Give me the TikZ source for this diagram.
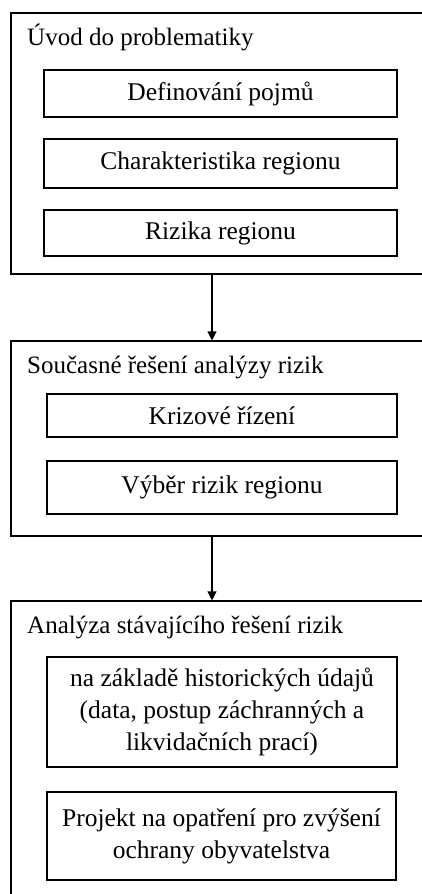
\documentclass[tikz,border=0pt]{standalone}
\usepackage{fontspec}
\setmainfont{Liberation Serif}
\usetikzlibrary{arrows.meta}
\begin{document}
\begin{tikzpicture}[x=1pt,y=-1pt,
  outerbox/.style={draw, line width=1.1pt, minimum width=419pt, inner sep=0pt},
  innerbox/.style={draw, line width=1.1pt, inner sep=0pt, align=center, font=\fontsize{25.5}{32}\selectfont},
  titletext/.style={anchor=base west, inner sep=0pt, font=\fontsize{25}{32}\selectfont},
  arr/.style={-{Triangle[width=9pt,length=9pt]}, line width=1.1pt}]
\useasboundingbox (0,0) rectangle (422,894);
\clip (0,0) rectangle (422,894);
% outer boxes
\node[outerbox, minimum height=261pt] (b1) at (220.5,143.5) {};
\node[outerbox, minimum height=195pt] (b2) at (220.5,438.5) {};
\node[outerbox, minimum height=299pt] (b3) at (220.5,750.5) {};
% titles
\node[titletext] (t1) at (27,45) {Úvod do problematiky};
\node[titletext] (t2) at (27,373) {Současné řešení analýzy rizik};
\node[titletext] (t3) at (27,633) {Analýza stávajícího řešení rizik};
% inner boxes
\node[innerbox, minimum width=353pt, minimum height=47pt] (i1) at (220.5,93.5) {Definování pojmů};
\node[innerbox, minimum width=353pt, minimum height=49pt] (i2) at (220.5,163.5) {Charakteristika regionu};
\node[innerbox, minimum width=353pt, minimum height=46pt] (i3) at (220.5,233) {Rizika regionu};
\node[innerbox, minimum width=350pt, minimum height=43pt] (j1) at (222,415.5) {Krizové řízení};
\node[innerbox, minimum width=350pt, minimum height=53pt] (j2) at (222,487.5) {Výběr rizik regionu};
\node[innerbox, minimum width=350pt, minimum height=110pt] (k1) at (222,712) {na základě historických údajů\\(data, postup záchranných a\\likvidačních prací)};
\node[innerbox, minimum width=349pt, minimum height=88pt] (k2) at (221.5,836) {Projekt na opatření pro zvýšení\\ochrany obyvatelstva};
% connectors
\coordinate (ax) at (212,0);
\draw[arr] (b1.south west -| ax) -- (b2.north west -| ax);
\draw[arr] (b2.south west -| ax) -- (b3.north west -| ax);
\end{tikzpicture}
\end{document}
